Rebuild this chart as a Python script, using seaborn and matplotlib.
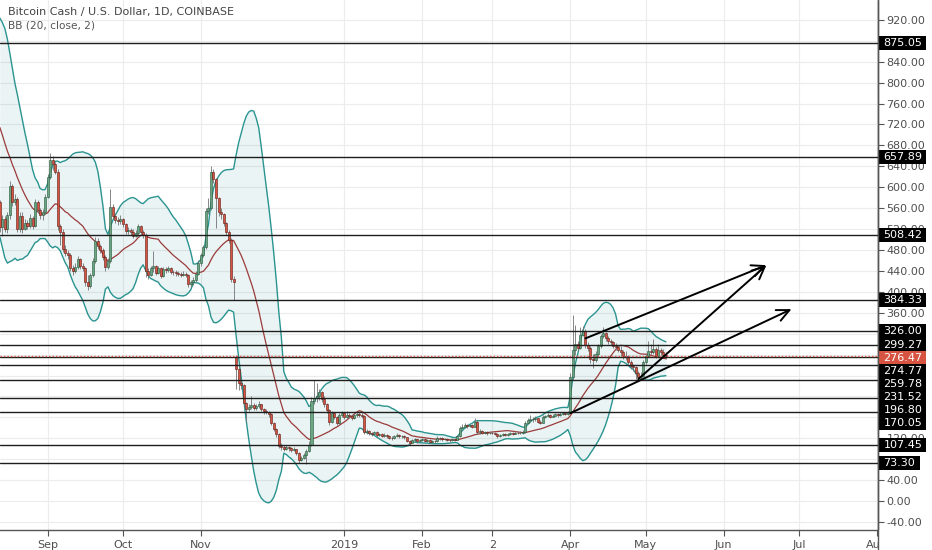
import numpy as np
import pandas as pd
import matplotlib
matplotlib.use("Agg")
import matplotlib.pyplot as plt
import matplotlib.transforms as mtransforms
from matplotlib.patches import Rectangle
from matplotlib.lines import Line2D
from matplotlib.ticker import FuncFormatter, MultipleLocator
import seaborn as sns

sns.set_theme(style="white")
plt.rcParams["font.family"] = ["DejaVu Sans"]

# BCH/USD daily closes before the visible window (Jul 25 - Aug 12 2018), only feed the BB
warmup_close = [830, 835, 845, 850, 840, 815, 785, 770, 755, 735, 710, 700, 685, 650, 610, 620, 575, 580, 571]

# visible candles, Aug 13 2018 - May 9 2019 (Coinbase had no bars Nov 15-18)
close_aug = [524, 540, 520, 546, 602, 572, 578, 520, 545, 520, 532, 526, 542, 526, 572, 556, 546, 552, 582]
high_aug = [575, 546, 545, 552, 612, 606, 588, 582, 552, 552, 540, 538, 548, 545, 578, 575, 560, 558, 588]
low_aug = [515, 506, 514, 512, 540, 564, 566, 514, 515, 512, 518, 520, 522, 520, 524, 550, 540, 538, 548]

close_sep = [620, 652, 645, 630, 526, 515, 482, 475, 470, 446, 440, 448, 462, 450, 446,
             418, 412, 432, 458, 498, 488, 480, 466, 448, 458, 562, 545, 538, 536, 540]
high_sep = [626, 665, 660, 648, 634, 530, 520, 490, 480, 474, 452, 455, 468, 464, 455,
            448, 432, 436, 464, 504, 502, 492, 484, 470, 464, 596, 568, 550, 544, 546]
low_sep = [580, 615, 632, 625, 518, 490, 476, 468, 462, 440, 432, 436, 444, 444, 440,
           412, 404, 408, 428, 455, 482, 474, 460, 440, 444, 455, 540, 532, 528, 530]

close_oct = [530, 516, 518, 514, 506, 512, 525, 515, 508, 440, 432, 445, 450, 436, 446, 430,
             444, 442, 445, 438, 437, 436, 434, 433, 435, 432, 415, 418, 422, 435, 455]
high_oct = [542, 532, 524, 522, 520, 518, 530, 528, 518, 512, 446, 450, 478, 452, 450, 448,
            448, 448, 450, 447, 442, 441, 439, 438, 440, 437, 434, 422, 428, 440, 460]
low_oct = [524, 510, 510, 508, 502, 504, 508, 510, 502, 428, 424, 430, 438, 432, 434, 426,
           428, 436, 438, 434, 432, 431, 430, 428, 430, 428, 410, 410, 414, 418, 432]

close_nov = [470, 485, 555, 560, 630, 615, 580, 552, 548, 532, 515, 500, 425, 418,
             252, 226, 222, 188, 176, 180, 184, 178, 182, 185, 176, 172]
high_nov = [475, 490, 560, 580, 640, 634, 618, 582, 560, 550, 534, 518, 502, 430,
            280, 256, 232, 224, 190, 186, 200, 188, 186, 192, 186, 178]
low_nov = [450, 466, 482, 548, 556, 608, 523, 545, 540, 526, 508, 494, 418, 384,
           215, 212, 214, 182, 152, 172, 176, 174, 175, 178, 172, 166]

close_dec = [170, 166, 150, 138, 128, 106, 104, 100, 104, 101, 98, 100, 92, 78, 82, 88,
             96, 108, 192, 197, 200, 208, 196, 186, 174, 152, 168, 160, 150, 164, 168]
high_dec = [176, 172, 168, 152, 140, 130, 110, 107, 108, 106, 104, 104, 100, 94, 86, 92,
            100, 114, 198, 232, 226, 215, 210, 200, 188, 176, 172, 170, 162, 168, 172]
low_dec = [166, 160, 146, 134, 122, 102, 98, 96, 98, 96, 94, 95, 88, 72, 76, 80,
           70, 94, 106, 186, 190, 194, 190, 180, 168, 146, 150, 156, 146, 148, 160]

close_jan = [160, 165, 162, 158, 164, 167, 165, 162, 132, 134, 130, 128, 132, 126, 128, 125,
             127, 124, 121, 120, 124, 127, 124, 125, 122, 115, 111, 116, 118, 114, 117]
high_jan = [170, 172, 168, 164, 167, 170, 170, 168, 164, 137, 136, 132, 134, 133, 131, 130,
            130, 128, 126, 124, 126, 131, 128, 127, 126, 123, 117, 118, 120, 119, 119]
low_jan = [156, 158, 158, 154, 156, 160, 161, 158, 128, 128, 127, 124, 126, 123, 124, 122,
           123, 121, 118, 117, 118, 122, 121, 121, 119, 112, 108, 110, 113, 111, 112]

close_feb = [118, 115, 117, 113, 115, 114, 121, 120, 118, 119, 117, 116, 118, 117,
             124, 140, 141, 146, 143, 145, 142, 152, 132, 134, 131, 132, 130, 131]
high_feb = [121, 120, 119, 118, 117, 117, 124, 123, 122, 121, 120, 119, 120, 120,
            126, 144, 148, 149, 148, 148, 147, 158, 154, 137, 136, 134, 133, 134]
low_feb = [114, 112, 113, 110, 111, 111, 113, 117, 115, 116, 114, 113, 114, 114,
           116, 122, 137, 139, 140, 141, 139, 141, 128, 129, 128, 129, 127, 128]

close_mar = [130, 129, 124, 127, 128, 126, 129, 130, 129, 131, 130, 131, 132, 150, 155, 157,
             156, 158, 152, 150, 160, 162, 165, 161, 163, 166, 164, 167, 168, 167, 170]
high_mar = [133, 132, 131, 129, 130, 130, 131, 132, 132, 133, 133, 134, 135, 153, 158, 164,
            160, 162, 159, 154, 165, 165, 168, 166, 166, 169, 168, 170, 171, 170, 172]
low_mar = [128, 126, 120, 122, 125, 124, 125, 127, 127, 128, 128, 129, 129, 131, 148, 152,
           152, 153, 149, 147, 149, 158, 160, 159, 160, 162, 161, 163, 164, 164, 165]

close_apr = [238, 288, 300, 292, 318, 326, 298, 292, 272, 270, 281, 296, 316, 322, 312,
             306, 304, 296, 294, 288, 284, 278, 276, 266, 258, 256, 244, 238, 240, 266]
high_apr = [244, 355, 336, 306, 332, 334, 328, 304, 296, 282, 286, 300, 320, 332, 324,
            316, 310, 306, 302, 298, 296, 288, 286, 280, 270, 262, 258, 248, 246, 270]
low_apr = [168, 232, 280, 286, 290, 316, 292, 286, 264, 255, 266, 278, 292, 312, 306,
           300, 298, 292, 288, 284, 278, 272, 270, 262, 252, 248, 234, 231, 232, 238]

close_may = [278, 287, 285, 291, 278, 288, 284, 279, 276.47]
high_may = [282, 306, 300, 310, 294, 301, 292, 290, 284]
low_may = [262, 276, 280, 282, 274, 276, 280, 275, 272]

halt_days = pd.date_range("2018-11-15", "2018-11-18")
reopen_day = "2018-11-19"
reopen_open = 276

levels = [875.05, 657.89, 508.42, 384.33, 326.00, 299.27, 274.77, 259.78, 231.52, 196.80, 170.05, 107.45, 73.30]
last_price = 276.47

# drawn arrows: (start date, start price, end date, end price)
arrows = [
    ("2019-04-07", 311, "2019-06-18", 451),
    ("2019-04-28", 233, "2019-06-18", 451),
    ("2019-04-01", 168, "2019-06-28", 367),
]

month_ticks = ["2018-09-01", "2018-10-01", "2018-11-01", "2019-01-01", "2019-02-01", "2019-03-01",
               "2019-04-01", "2019-05-01", "2019-06-01", "2019-07-01", "2019-08-01"]
month_labels = ["Sep", "Oct", "Nov", "2019", "Feb", "2", "Apr", "May", "Jun", "Jul", "Aug"]

# ---- build series ----
timeline = pd.date_range("2018-07-25", "2019-08-31", freq="D")
timeline = timeline[~timeline.isin(halt_days)]
origin = timeline.get_loc(pd.Timestamp("2018-09-01"))


def pos(day):
    return timeline.get_loc(pd.Timestamp(day)) - origin


vis_close = (close_aug + close_sep + close_oct + close_nov + close_dec + close_jan
             + close_feb + close_mar + close_apr + close_may)
vis_high = np.array(high_aug + high_sep + high_oct + high_nov + high_dec + high_jan
                    + high_feb + high_mar + high_apr + high_may, dtype=float)
vis_low = np.array(low_aug + low_sep + low_oct + low_nov + low_dec + low_jan
                   + low_feb + low_mar + low_apr + low_may, dtype=float)

close = np.array(warmup_close + vis_close, dtype=float)
n = len(close)
x = np.arange(n) - origin
opens = np.r_[np.nan, close[:-1]]
opens[pos(reopen_day) + origin] = reopen_open

s = pd.Series(close)
basis = s.rolling(20).mean()
dev = s.rolling(20).std(ddof=0)
upper = basis + 2 * dev
lower = basis - 2 * dev

k = len(warmup_close)
xv, o, c = x[k:], opens[k:], close[k:]
hi = np.maximum(vis_high, np.maximum(o, c))
lo = np.minimum(vis_low, np.minimum(o, c))
up = c >= o

# ---- figure ----
W, H = 932, 550
AX_R, AX_B = 878, 20
fig = plt.figure(figsize=(W / 100, H / 100), dpi=100)
ax = fig.add_axes([0, AX_B / H, AX_R / W, (H - AX_B) / H])
ymin, ymax = -55.4, 958
ax.set_xlim(-18.94, 330.4)
ax.set_ylim(ymin, ymax)

ax.fill_between(x, lower, upper, color="#198787", alpha=0.09, lw=0, zorder=1)
sns.lineplot(x=x, y=upper, ax=ax, color="#2a9490", lw=1.0, zorder=2)
sns.lineplot(x=x, y=lower, ax=ax, color="#2a9490", lw=1.0, zorder=2)
sns.lineplot(x=x, y=basis, ax=ax, color="#9c3b3b", lw=0.9, zorder=2)

ax.vlines(xv, lo, hi, color="#737375", lw=0.6, zorder=3)
ax.bar(xv[up], np.maximum(c - o, 0.8)[up], bottom=o[up], width=0.8,
       color="#6ba583", edgecolor="#225437", lw=0.4, zorder=4)
ax.bar(xv[~up], np.maximum(o - c, 0.8)[~up], bottom=c[~up], width=0.8,
       color="#d75442", edgecolor="#5b1a13", lw=0.4, zorder=4)

for v in levels:
    ax.axhline(v, color="#1e1e1e", lw=1.0, zorder=5)
ax.axhline(last_price, color="#d75442", lw=1.0, ls=(0, (1, 1.5)), zorder=5)

for d0, p0, d1, p1 in arrows:
    ax.annotate("", xy=(pos(d1), p1), xytext=(pos(d0), p0),
                arrowprops=dict(arrowstyle="->,head_length=0.75,head_width=0.35",
                                color="black", lw=1.4, shrinkA=0, shrinkB=0),
                zorder=6)

# price labels on the scale, pushed apart where they would overlap
px_per_unit = (H - AX_B) / (ymax - ymin)
step = 13 / px_per_unit
box_h = 14 / px_per_unit
box_y = []
prev = None
for v in sorted(levels + [last_price], reverse=True):
    y = v if prev is None else min(v, prev - step)
    prev = y
    box_y.append((v, y))


def tick_text(v, _):
    # a scale value lying fully under a label box is not drawn
    if any(abs(v - y) * px_per_unit < 6 for _, y in box_y):
        return ""
    return f"{v:.2f}"


# axes / grid
ax.set_axisbelow(True)
ax.grid(True, color="#ececec", lw=0.8)
ax.set_xticks([pos(d) for d in month_ticks], month_labels)
ax.yaxis.set_major_locator(MultipleLocator(40))
ax.yaxis.set_major_formatter(FuncFormatter(tick_text))
ax.yaxis.tick_right()
ax.tick_params(axis="y", right=True, length=4, width=0.8, color="#555555", pad=2,
               labelsize=8, labelcolor="#4f4f4f")
ax.tick_params(axis="x", bottom=True, length=4, width=0.8, color="#555555", pad=3,
               labelsize=8, labelcolor="#4f4f4f")
ax.set_xlabel("")
ax.set_ylabel("")
for side in ("left", "top"):
    ax.spines[side].set_visible(False)
for side in ("right", "bottom"):
    ax.spines[side].set_color("#555555")
    ax.spines[side].set_linewidth(1.0)

blend = mtransforms.blended_transform_factory(ax.transAxes, ax.transData)
for v, y in box_y:
    txt = f"{v:.2f}"
    face = "#d75442" if v == last_price else "black"
    bw = (9 + 6.5 * len(txt)) / AX_R
    ax.add_patch(Rectangle((1.0, y - box_h / 2), bw, box_h, transform=blend,
                           fc=face, ec="none", clip_on=False, zorder=9))
    ax.text(1.0 + 5.5 / AX_R, y, txt, transform=blend, ha="left", va="center",
            color="white", fontsize=8, clip_on=False, zorder=10)

ax.text(8 / AX_R, 1 - 12 / (H - AX_B), "Bitcoin Cash / U.S. Dollar, 1D, COINBASE",
        transform=ax.transAxes, ha="left", va="center", fontsize=8, color="#444444", zorder=11)
ax.text(8 / AX_R, 1 - 26 / (H - AX_B), "BB (20, close, 2)",
        transform=ax.transAxes, ha="left", va="center", fontsize=7.6, color="#555555", zorder=11)

# price scale panel edge runs through the time axis row too
fig.add_artist(Rectangle(((AX_R + 1) / W, 0), (W - AX_R - 1) / W, AX_B / H,
                         transform=fig.transFigure, fc="white", ec="none", zorder=5))
fig.add_artist(Line2D([(AX_R - 0.5) / W] * 2, [0, 1], transform=fig.transFigure,
                      color="#555555", lw=1.0, zorder=6))

fig.savefig("out.png", dpi=100)
